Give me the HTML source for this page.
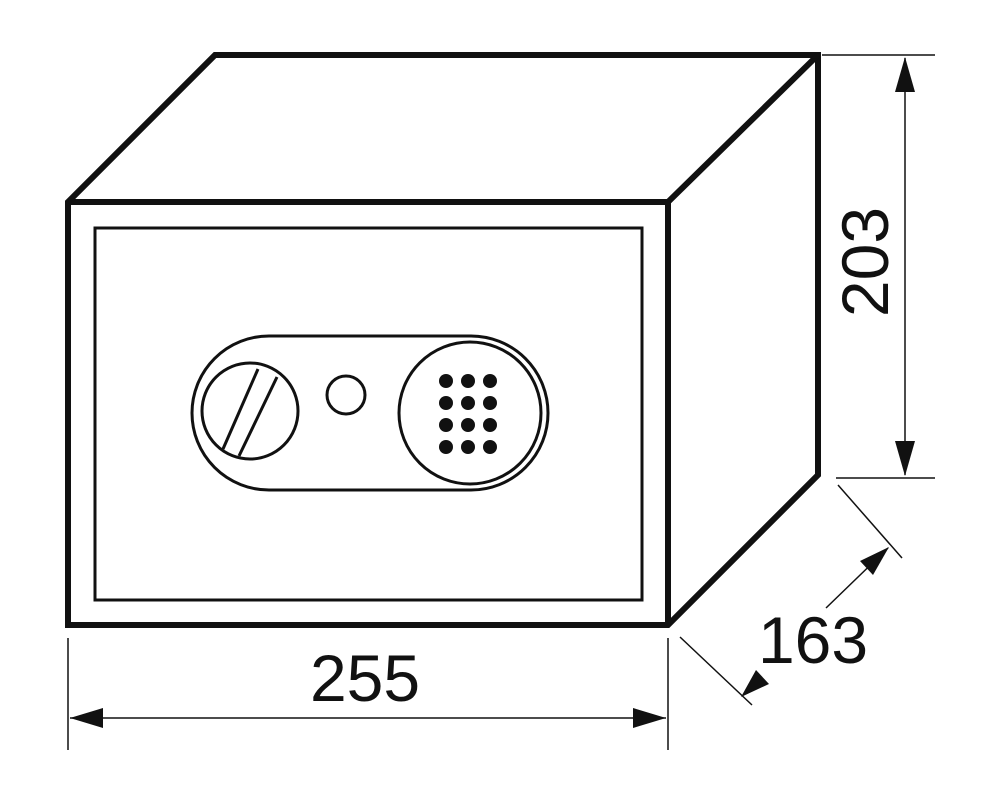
<!DOCTYPE html>
<html><head><style>body{margin:0;background:#fff}svg{display:block}</style></head><body>
<svg width="1000" height="804" viewBox="0 0 1000 804" xmlns="http://www.w3.org/2000/svg">
<g fill="none" stroke="#111" stroke-linejoin="miter">
<polygon points="68,202 215,55 818,55 818,475 668,625 68,625" stroke-width="6"/>
<polyline points="68,202 668,202 818,55" stroke-width="6"/>
<line x1="668" y1="202" x2="668" y2="625" stroke-width="6"/>
<rect x="95" y="228" width="547" height="372" stroke-width="3"/>
<rect x="192" y="336" width="356" height="154" rx="77" stroke-width="3"/>
<circle cx="250" cy="411" r="48" stroke-width="3"/>
<line x1="258" y1="369" x2="223" y2="449" stroke-width="3"/>
<line x1="277" y1="377" x2="239" y2="456" stroke-width="3"/>
<circle cx="346" cy="395" r="19" stroke-width="3"/>
<circle cx="470" cy="413" r="71" stroke-width="3"/>
</g>
<g fill="#111">
<circle cx="446" cy="381" r="7"/><circle cx="468" cy="381" r="7"/><circle cx="490" cy="381" r="7"/>
<circle cx="446" cy="403" r="7"/><circle cx="468" cy="403" r="7"/><circle cx="490" cy="403" r="7"/>
<circle cx="446" cy="425" r="7"/><circle cx="468" cy="425" r="7"/><circle cx="490" cy="425" r="7"/>
<circle cx="446" cy="447" r="7"/><circle cx="468" cy="447" r="7"/><circle cx="490" cy="447" r="7"/>
</g>
<g stroke="#111" stroke-width="1.5" fill="none">
<line x1="822" y1="55" x2="935" y2="55"/>
<line x1="836" y1="478" x2="935" y2="478"/>
<line x1="905" y1="58" x2="905" y2="475"/>
<line x1="68" y1="638" x2="68" y2="750"/>
<line x1="668" y1="638" x2="668" y2="750"/>
<line x1="70" y1="718" x2="666" y2="718"/>
<line x1="838" y1="485" x2="902" y2="558"/>
<line x1="680" y1="637" x2="752" y2="705"/>
<line x1="826" y1="608" x2="888" y2="548"/>
</g>
<g fill="#111">
<polygon points="905,57 895,92 915,92"/>
<polygon points="905,476 895,441 915,441"/>
<polygon points="70,718 103,708 103,728"/>
<polygon points="666,718 633,708 633,728"/>
<polygon points="889,547 873,575 860,561"/>
<polygon points="741,697 756,670 769,684"/>
</g>
<g font-family="Liberation Sans, sans-serif" font-size="66" fill="#111" text-anchor="middle">
<text x="365" y="701">255</text>
<text x="813" y="663">163</text>
<text transform="translate(888,262) rotate(-90)">203</text>
</g>
</svg>
</body></html>
